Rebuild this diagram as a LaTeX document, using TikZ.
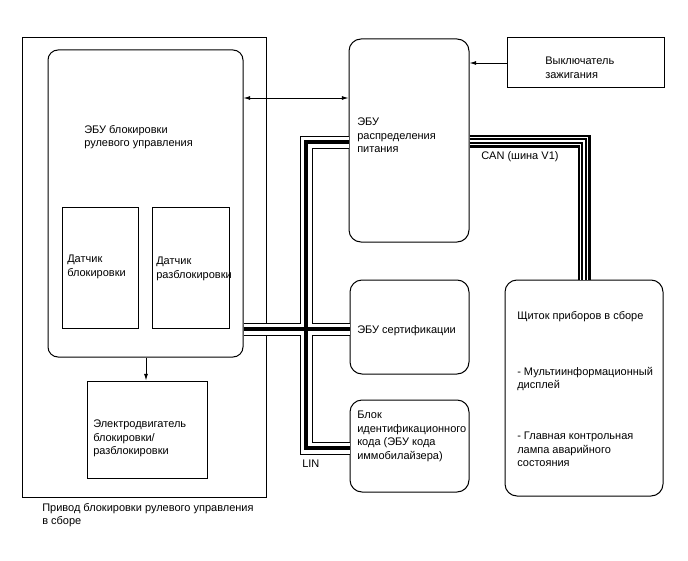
\documentclass[tikz,border=0pt]{standalone}
\usepackage{fontspec}
\setmainfont{Liberation Sans}
\usetikzlibrary{arrows.meta,fit}
\begin{document}
\begin{tikzpicture}[x=0.75pt,y=-0.75pt,
  box/.style={draw, line width=0.75pt, inner sep=0pt},
  rbox/.style={box, rounded corners=9pt},
  txt/.style={inner sep=0pt, anchor=north west, align=left, font=\fontsize{8.25}{10.1}\selectfont},
  arr/.style={line width=0.6pt, -{Latex[length=5pt,width=3pt]}},
  arrb/.style={line width=0.6pt, {Latex[length=5pt,width=3pt]}-{Latex[length=5pt,width=3pt]}},
  ca1/.style={line width=9.75pt, black},
  ca2/.style={line width=8.25pt, white},
  ca3/.style={line width=2.8pt, black},
  cb1/.style={line width=9.75pt, black},
  cb2/.style={line width=6.6pt, white},
  cb3/.style={line width=4.5pt, black},
  cb4/.style={line width=1.6pt, white},
]
\useasboundingbox (0,0) rectangle (688,560);
\fill[white] (0,0) rectangle (688,560);

% boxes
\node[box, fit={(22,38) (266,497)}] (outer) {};
\node[rbox, rounded corners=7.5pt, fit={(48,50) (243,357)}] (secu) {};
\node[box, fit={(62,207) (138,328)}] (lsens) {};
\node[box, fit={(152,207) (229,328)}] (usens) {};
\node[box, fit={(87,381) (207,478)}] (motor) {};
\node[rbox, fit={(349,39) (469,242)}] (pecu) {};
\node[box, fit={(507,38) (664,87)}] (ign) {};
\node[rbox, fit={(350,280) (469,374)}] (cert) {};
\node[rbox, fit={(350,400) (469,492)}] (idb) {};
\node[rbox, fit={(505,280) (663,496)}] (clus) {};

% texts
\node[txt] (t1) at (84,125) {ЭБУ блокировки\\рулевого управления};
\node[txt] (t2) at (67,255) {Датчик\\блокировки};
\node[txt] (t3) at (156,257) {Датчик\\разблокировки};
\node[txt] (t4) at (93,420) {Электродвигатель\\блокировки/\\разблокировки};
\node[txt] (t5) at (357,118) {ЭБУ\\распределения\\питания};
\node[txt] (t6) at (545,57) {Выключатель\\зажигания};
\node[txt] (t7) at (481,151) {CAN (шина V1)};
\node[txt] (t8) at (357,325) {ЭБУ сертификации};
\node[txt] (t9) at (357,411) {Блок\\идентификационного\\кода (ЭБУ кода\\иммобилайзера)};
\node[txt] (t10) at (302,460) {LIN};
\node[txt] (t11) at (517,311) {Щиток приборов в сборе};
\node[txt] (t12) at (517,367) {- Мультиинформационный\\дисплей};
\node[txt] (t13) at (517,432) {- Главная контрольная\\лампа аварийного\\состояния};
\node[txt] (t14) at (42,503) {Привод блокировки рулевого управления\\в сборе};

% arrows
\coordinate (yA) at (0,98);
\coordinate (yI) at (0,63);
\coordinate (xM) at (146,0);
\draw[arr] (ign.west |- yI) -- (pecu.east |- yI);
\draw[arrb] (secu.east |- yA) -- (pecu.west |- yA);
\draw[arr] (secu.south -| xM) -- (motor.north -| xM);

% cables
\coordinate (cTL) at (306,142);
\coordinate (cBL) at (306,448);
\coordinate (yL) at (0,329);
\coordinate (cTR) at (584,141);
\foreach \s in {ca1,ca2,ca3}{
  \draw[\s] (pecu.west |- cTL) -- (cTL) -- (cBL) -- (idb.west |- cBL);
  \draw[\s] (secu.east |- yL) -- (cert.west |- yL);
}
\foreach \s in {cb1,cb2,cb3,cb4}{
  \draw[\s] (pecu.east |- cTR) -- (cTR) -- (clus.north -| cTR);
}
\end{tikzpicture}
\end{document}
